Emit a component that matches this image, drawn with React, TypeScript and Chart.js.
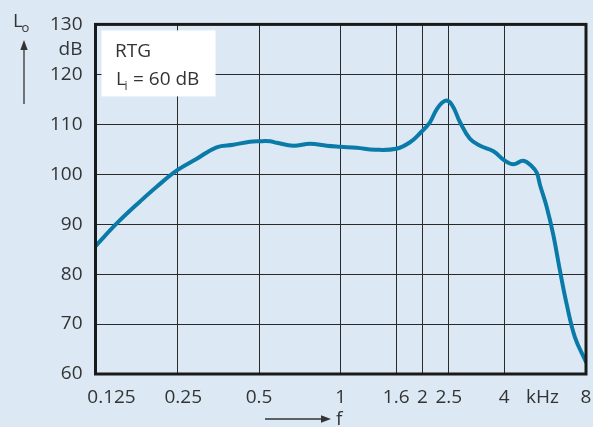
import React, { useEffect, useRef } from "react";
import { Chart, registerables } from "chart.js";

Chart.register(...registerables);

// Output level response of the hearing aid, input level 60 dB
const frequencyKHz = [
  0.125, 0.15, 0.182, 0.21, 0.25, 0.295, 0.349, 0.402, 0.463, 0.5, 0.549, 0.581,
  0.669, 0.771, 0.888, 1.0, 1.145, 1.337, 1.6, 1.799, 1.958, 2.13, 2.256, 2.42,
  2.56, 2.75, 2.99, 3.26, 3.65, 4.0, 4.32, 4.7, 5.05, 5.27, 5.42, 5.73, 6.06,
  6.42, 6.79, 7.28, 8.0,
];
const outputLevelDb = [
  85.6, 90.2, 94.5, 97.5, 100.8, 103.1, 105.4, 105.9, 106.5, 106.6, 106.6, 106.3,
  105.7, 106.1, 105.7, 105.5, 105.3, 104.9, 105.1, 106.4, 108.2, 110.4, 113.0, 114.7,
  114.0, 110.4, 107.1, 105.7, 104.6, 102.8, 102.0, 102.7, 101.6, 100.3, 97.8, 93.5, 87.9,
  80.6, 74.0, 67.4, 62.4,
];

const xTickValues = [0.125, 0.25, 0.5, 1, 1.6, 2, 2.5, 4, 5.53, 8];
const xTickLabels = ["0.125", "0.25", "0.5", "1", "1.6", "2", "2.5", "4", "kHz", "8"];
const xGridValues = [0.25, 0.5, 1, 1.6, 2, 2.5, 4];

const yTickValues = [60, 70, 80, 90, 100, 110, 120, 125, 130];
const yTickLabels = ["60", "70", "80", "90", "100", "110", "120", "dB", "130"];
const yGridValues = [70, 80, 90, 100, 110, 120];

const curveTitle = "RTG";
const inputLevelText = "= 60 dB";

const BG = "#dce9f4";
const CURVE = "#0a7aa8";
const TEXT = "#333333";
const GRID = "#2a2a2a";
const FONT = "'Open Sans', 'Noto Sans', sans-serif";

// Nudges for crowded x labels near the left edge
const xLabelShift: Record<string, number> = { "0.125": 16, "0.25": 6 };

const framePlugin = {
  id: "frame",
  beforeDatasetsDraw(chart: any) {
    const { ctx, chartArea: a } = chart;
    ctx.save();
    // annotation panel in the upper-left corner of the plot
    ctx.fillStyle = "#ffffff";
    ctx.fillRect(a.left + 6, a.top + 6, 114, 66);
    ctx.fillStyle = TEXT;
    ctx.font = `19px ${FONT}`;
    ctx.textAlign = "left";
    ctx.textBaseline = "alphabetic";
    ctx.fillText(curveTitle, a.left + 19.5, a.top + 32.5);
    ctx.fillText("L", a.left + 20.5, a.top + 61);
    ctx.fillText(inputLevelText, a.left + 37.5, a.top + 61);
    ctx.font = `12px ${FONT}`;
    ctx.fillText("i", a.left + 29, a.top + 66);
    ctx.restore();
  },
  afterDraw(chart: any) {
    const { ctx, chartArea: a, scales } = chart;
    ctx.save();
    // plot frame
    ctx.strokeStyle = "#1a1a1a";
    ctx.lineWidth = 3;
    ctx.strokeRect(a.left, a.top, a.right - a.left, a.bottom - a.top);

    // x tick labels
    ctx.fillStyle = TEXT;
    ctx.font = `19px ${FONT}`;
    ctx.textAlign = "center";
    ctx.textBaseline = "alphabetic";
    xTickValues.forEach((v, i) => {
      const label = xTickLabels[i];
      const px = scales.x.getPixelForValue(v) + (xLabelShift[label] || 0);
      ctx.fillText(label, px, a.bottom + 29);
    });

    // ordinate symbol with arrow
    ctx.textAlign = "left";
    ctx.fillText("L", 13, 26.5);
    ctx.font = `13px ${FONT}`;
    ctx.fillText("o", 21.5, 32);
    ctx.strokeStyle = TEXT;
    ctx.lineWidth = 1.3;
    ctx.beginPath();
    ctx.moveTo(24, 104);
    ctx.lineTo(24, 48);
    ctx.stroke();
    ctx.beginPath();
    ctx.moveTo(24, 40);
    ctx.lineTo(20.3, 50);
    ctx.lineTo(27.7, 50);
    ctx.closePath();
    ctx.fill();

    // abscissa symbol with arrow
    ctx.beginPath();
    ctx.moveTo(265, a.bottom + 45);
    ctx.lineTo(322, a.bottom + 45);
    ctx.stroke();
    ctx.beginPath();
    ctx.moveTo(331, a.bottom + 45);
    ctx.lineTo(321, a.bottom + 41.3);
    ctx.lineTo(321, a.bottom + 48.7);
    ctx.closePath();
    ctx.fill();
    ctx.font = `19px ${FONT}`;
    ctx.fillText("f", 336, a.bottom + 51);
    ctx.restore();
  },
};

export default function App() {
  const ref = useRef<HTMLCanvasElement>(null);

  useEffect(() => {
    document.body.style.margin = "0";
    const canvas = ref.current;
    if (!canvas) return;
    const chart = new Chart(canvas, {
      type: "line",
      data: {
        datasets: [
          {
            data: frequencyKHz.map((f, i) => ({ x: f, y: outputLevelDb[i] })),
            borderColor: CURVE,
            borderWidth: 4,
            borderCapStyle: "round",
            borderJoinStyle: "round",
            pointRadius: 0,
            tension: 0.4,
            fill: false,
          },
        ],
      },
      options: {
        animation: false,
        responsive: false,
        devicePixelRatio: 1,
        layout: { padding: { left: 0, right: 7, top: 21, bottom: 0 } },
        plugins: { legend: { display: false }, tooltip: { enabled: false } },
        scales: {
          x: {
            type: "logarithmic",
            min: 0.125,
            max: 8,
            afterBuildTicks: (s: any) => {
              s.ticks = xTickValues.map((v) => ({ value: v }));
            },
            afterFit: (s: any) => {
              s.height = 53;
            },
            ticks: { display: false },
            grid: {
              drawTicks: false,
              lineWidth: 1,
              color: (c: any) =>
                c.tick && xGridValues.includes(c.tick.value) ? GRID : "rgba(0,0,0,0)",
            },
            border: { display: false },
          },
          y: {
            min: 60,
            max: 130,
            afterBuildTicks: (s: any) => {
              s.ticks = yTickValues.map((v) => ({ value: v }));
            },
            afterFit: (s: any) => {
              s.width = 95.5;
            },
            ticks: {
              padding: 13,
              color: TEXT,
              font: { family: FONT, size: 19 },
              callback: (v: any) => {
                const i = yTickValues.indexOf(Number(v));
                return i >= 0 ? yTickLabels[i] : "";
              },
            },
            grid: {
              drawTicks: false,
              lineWidth: 1,
              color: (c: any) =>
                c.tick && yGridValues.includes(c.tick.value) ? GRID : "rgba(0,0,0,0)",
            },
            border: { display: false },
          },
        },
      } as any,
      plugins: [framePlugin],
    });
    return () => chart.destroy();
  }, []);

  return (
    <div style={{ width: 593, height: 427, background: BG }}>
      <canvas ref={ref} width={593} height={427} style={{ display: "block" }} />
    </div>
  );
}
